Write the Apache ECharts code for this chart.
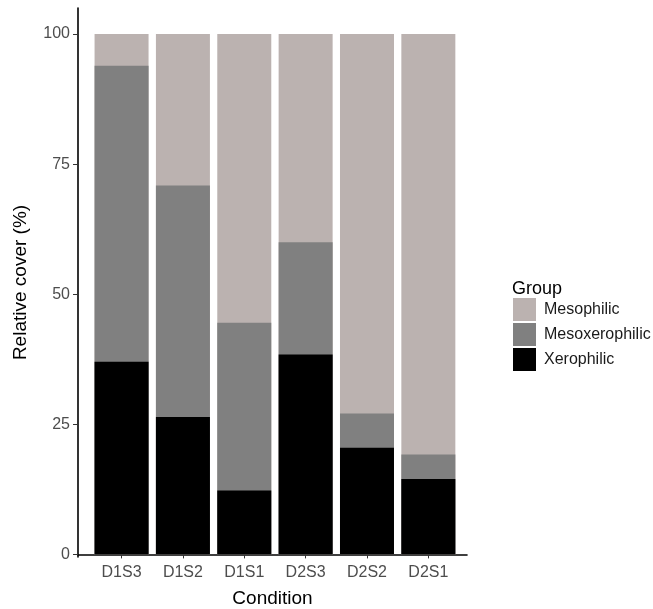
<!DOCTYPE html>
<html>
<head>
<meta charset="utf-8">
<script src="https://cdn.jsdelivr.net/npm/echarts@6/dist/echarts.min.js"></script>
<style>html,body{margin:0;padding:0;background:#fff;}#c{width:653px;height:609px;}</style>
</head>
<body>
<div id="c"></div>
<script>
const categories = ['D1S3', 'D1S2', 'D1S1', 'D2S3', 'D2S2', 'D2S1'];
const xerophilic = [37.0, 26.4, 12.3, 38.4, 20.5, 14.5];
const mesoxerophilic = [56.9, 44.5, 32.2, 21.6, 6.6, 4.7];
const mesophilic = [6.1, 29.1, 55.5, 40.0, 72.9, 80.8];
const yTicks = [0, 25, 50, 75, 100];
const positions = categories.map((c, i) => i + 1);

// stacked tops computed from the group values (drawn back to front)
const topXero = xerophilic.slice();
const topMesoxero = xerophilic.map((v, i) => v + mesoxerophilic[i]);
const topMeso = topMesoxero.map((v, i) => v + mesophilic[i]);
const toPairs = arr => arr.map((v, i) => [positions[i], v]);
const font = 'Liberation Sans, Arial, sans-serif';

const chart = echarts.init(document.getElementById('c'), null, {renderer: 'canvas'});
chart.setOption({
  animation: false,
  backgroundColor: '#fff',
  title: {
    text: 'Group', left: 507, top: 275,
    textStyle: {fontFamily: font, fontSize: 18, fontWeight: 'normal', color: '#000'}
  },
  legend: {
    orient: 'vertical', left: 508, top: 293,
    itemWidth: 23, itemHeight: 23, itemGap: 2,
    icon: 'rect',
    data: ['Mesophilic', 'Mesoxerophilic', 'Xerophilic'],
    textStyle: {fontFamily: font, fontSize: 16, color: '#1a1a1a', padding: [0, 0, 0, 3]}
  },
  grid: {left: 78, top: 8, width: 389, height: 549, containLabel: false, outerBoundsMode: 'none'},
  xAxis: {
    type: 'value', min: 0.29, max: 6.63,
    name: 'Condition', nameLocation: 'middle', nameGap: 32,
    nameTextStyle: {fontFamily: font, fontSize: 19, color: '#000'},
    splitLine: {show: false},
    axisLine: {lineStyle: {color: '#000', width: 1.6}},
    axisTick: {show: true, length: 4, customValues: positions, lineStyle: {color: '#333'}},
    axisLabel: {
      customValues: positions, margin: 8,
      fontFamily: font, fontSize: 16, color: '#4d4d4d',
      formatter: v => categories[Math.round(v) - 1] || ''
    }
  },
  yAxis: {
    type: 'value', min: -0.5, max: 105,
    name: 'Relative cover (%)', nameLocation: 'middle', nameGap: 48, nameRotate: 90,
    nameTextStyle: {fontFamily: font, fontSize: 19, color: '#000'},
    splitLine: {show: false},
    axisLine: {show: true, lineStyle: {color: '#000', width: 1.6}},
    axisTick: {show: true, length: 5, customValues: yTicks, lineStyle: {color: '#333'}},
    axisLabel: {customValues: yTicks, margin: 8, fontFamily: font, fontSize: 16, color: '#4d4d4d'}
  },
  series: [
    {name: 'Mesophilic', type: 'bar', barWidth: 54, barGap: '-100%', data: toPairs(topMeso),
     itemStyle: {color: '#bbb2b0'}, z: 1},
    {name: 'Mesoxerophilic', type: 'bar', barWidth: 54, barGap: '-100%', data: toPairs(topMesoxero),
     itemStyle: {color: '#808080'}, z: 2},
    {name: 'Xerophilic', type: 'bar', barWidth: 54, barGap: '-100%', data: toPairs(topXero),
     itemStyle: {color: '#000000'}, z: 3}
  ]
});
</script>
</body>
</html>
